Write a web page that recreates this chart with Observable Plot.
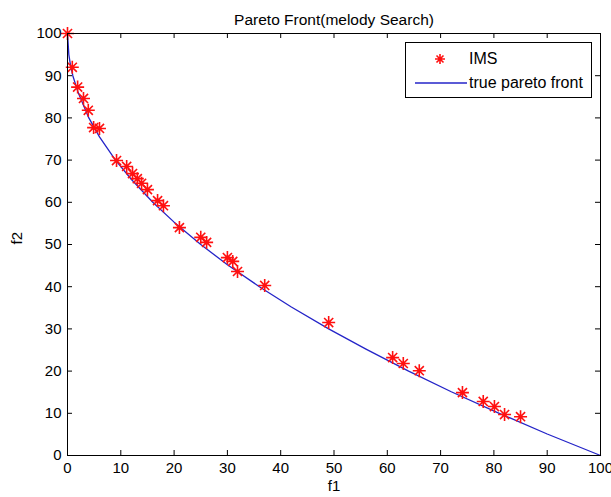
<!DOCTYPE html>
<html><head><meta charset="utf-8">
<script src="https://cdn.jsdelivr.net/npm/d3@7"></script>
<script src="https://cdn.jsdelivr.net/npm/@observablehq/plot@0.6"></script>
<style>
body{margin:0;background:#fff}
#wrap{position:relative;width:611px;height:497px;font-family:"Liberation Sans",Arial,sans-serif}
#legend{position:absolute;box-sizing:border-box;left:405px;top:42px;width:187px;height:56px;border:1px solid #000;background:#fff;font-size:16px;color:#000}
#legend .row{position:absolute;left:0;height:20px;display:flex;align-items:center}
#legend svg{overflow:visible}
</style>
</head><body><div id="wrap"></div>
<script>
// IMS solutions
const imsF1 = [0, 0.9, 1.9, 3.0, 3.9, 4.9, 6.0, 9.2, 11.1, 12.2, 13.1, 13.9, 15.0, 16.9, 18.0, 21.0, 25.0, 26.1, 30.0, 31.0, 31.9, 37.0, 49.0, 61.0, 63.0, 66.0, 74.1, 78.0, 80.1, 82.0, 85.0];
const imsF2 = [100, 92.0, 87.3, 84.6, 81.8, 77.7, 77.5, 69.9, 68.5, 66.8, 65.6, 64.5, 63.0, 60.4, 59.2, 54.0, 51.7, 50.5, 46.9, 46.0, 43.6, 40.3, 31.5, 23.2, 21.8, 20.1, 14.9, 12.8, 11.6, 9.7, 9.2];
// true pareto front
const frontF1 = [0, 0.25, 0.5, 1, 2, 4, 6, 9, 12, 16, 20, 25, 30, 36, 42, 49, 56, 64, 72, 81, 90, 100];
const frontF2 = [100, 95, 93, 90, 86, 80, 75.5, 70, 65.4, 60, 55.3, 50, 45.2, 40, 35.2, 30, 25.2, 20, 15.1, 10, 5.1, 0];
const xTicks = [0, 10, 20, 30, 40, 50, 60, 70, 80, 90, 100];
const yTicks = [0, 10, 20, 30, 40, 50, 60, 70, 80, 90, 100];
const titleText = "Pareto Front(melody Search)";
const xLabel = "f1", yLabel = "f2";
const seriesNames = ["IMS", "true pareto front"];

const ims = imsF1.map((v, i) => ({f1: v, f2: imsF2[i]}));
const front = frontF1.map((v, i) => ({f1: v, f2: frontF2[i]}));

const asterisk = {
  draw(ctx, size) {
    const r = Math.sqrt(size / Math.PI);
    const d = r * 0.7;
    ctx.moveTo(-r, 0); ctx.lineTo(r, 0);
    ctx.moveTo(0, -r); ctx.lineTo(0, r);
    ctx.moveTo(-d, -d); ctx.lineTo(d, d);
    ctx.moveTo(-d, d); ctx.lineTo(d, -d);
  }
};

const W = 611, H = 497, mL = 67, mR = 11, mT = 33, mB = 42;
const innerH = H - mT - mB, innerW = W - mL - mR, tk = 5;
const blue = "#2424c8", red = "#ff1010";

const chart = Plot.plot({
  width: W, height: H,
  marginLeft: mL, marginRight: mR, marginTop: mT, marginBottom: mB,
  style: {fontFamily: '"Liberation Sans", Arial, sans-serif', fontSize: "15px", color: "#000", background: "#fff"},
  x: {domain: [0, 100]},
  y: {domain: [0, 100]},
  marks: [
    Plot.ruleX(xTicks, {insetTop: innerH - tk, stroke: "#000"}),
    Plot.ruleX(xTicks, {insetBottom: innerH - tk, stroke: "#000"}),
    Plot.ruleY(yTicks, {insetRight: innerW - tk, stroke: "#000"}),
    Plot.ruleY(yTicks, {insetLeft: innerW - tk, stroke: "#000"}),
    Plot.line(front, {x: "f1", y: "f2", stroke: blue, strokeWidth: 1.3}),
    Plot.dot(ims, {x: "f1", y: "f2", symbol: asterisk, r: 6.5, stroke: red, strokeWidth: 1.6, fill: "none"}),
    Plot.frame({stroke: "#000", strokeWidth: 1}),
    Plot.axisX({ticks: xTicks, tickSize: 0, tickPadding: 7, label: null, tickFormat: d => d}),
    Plot.axisY({ticks: yTicks, tickSize: 0, tickPadding: 6, label: null, tickFormat: d => d}),
    Plot.text([titleText], {frameAnchor: "top", dy: -20, fontSize: 15.5, fill: "#000"}),
    Plot.text([xLabel], {frameAnchor: "bottom", dy: 35, fontSize: 15, fill: "#000"}),
    Plot.text([yLabel], {frameAnchor: "left", dx: -50, rotate: -90, fontSize: 15, fill: "#000"})
  ]
});
const wrap = document.getElementById("wrap");
wrap.appendChild(chart);

const lg = document.createElement("div");
lg.id = "legend";
lg.innerHTML =
  `<div class="row" style="top:6px"><svg width="62" height="20"><g transform="translate(34,10)" stroke="${red}" stroke-width="1.6" fill="none"><path d="M-5,0H5M0,-5V5M-3.5,-3.5L3.5,3.5M-3.5,3.5L3.5,-3.5"/></g></svg><span style="margin-left:1px">${seriesNames[0]}</span></div>` +
  `<div class="row" style="top:29.5px"><svg width="62" height="20"><line x1="9" x2="61" y1="10" y2="10" stroke="${blue}" stroke-width="1.3"/></svg><span style="margin-left:1px">${seriesNames[1]}</span></div>`;
wrap.appendChild(lg);
</script>
</body></html>
